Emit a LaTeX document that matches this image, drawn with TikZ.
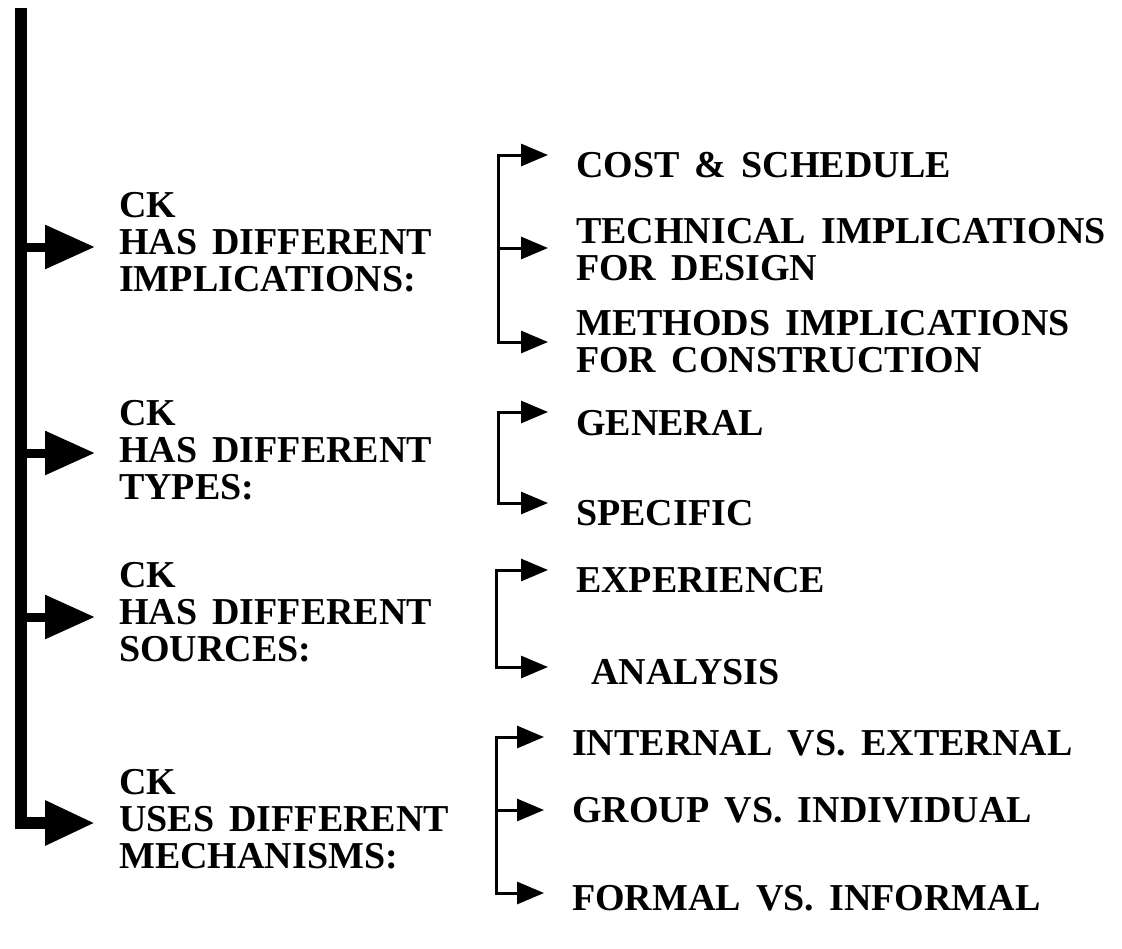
\documentclass[tikz,border=0pt]{standalone}
\usepackage{fontspec}
\setmainfont{Liberation Serif}[WordSpace=1.6]
\usetikzlibrary{arrows.meta,positioning}

\begin{document}
\begin{tikzpicture}[x=1pt,y=-1pt,
  bigtip/.style={-{Triangle[length=50pt,width=42pt]}},
  smalltip/.style={-{Triangle[length=27pt,width=22pt]}},
  lbl/.style={anchor=west,align=left,inner sep=0pt,font=\fontsize{38}{37}\selectfont\bfseries},
  trunk/.style={line width=12pt,line join=miter,bigtip,shorten >=24pt},
  twig/.style={line width=9pt,bigtip,shorten >=24pt},
  brk/.style={line width=3pt,line join=miter,smalltip,shorten >=28pt}]
  \useasboundingbox (0,0) rectangle (1122,948);

  % left column
  \node[lbl] (imp)  at (119,242) {CK\\HAS DIFFERENT\\IMPLICATIONS:};
  \node[lbl] (typ)  at (119,450) {CK\\HAS DIFFERENT\\TYPES:};
  \node[lbl] (src)  at (119,612) {CK\\HAS DIFFERENT\\SOURCES:};
  \node[lbl] (mech) at (119,819) {CK\\USES DIFFERENT\\MECHANISMS:};

  % right column
  \node[lbl] (cost) at (576,165) {COST \& SCHEDULE};
  \node[lbl] (tech) at (576,250) {TECHNICAL IMPLICATIONS\\FOR DESIGN};
  \node[lbl] (meth) at (576,342) {METHODS IMPLICATIONS\\FOR CONSTRUCTION};
  \node[lbl] (gen)  at (576,423) {GENERAL};
  \node[lbl] (spec) at (576,513) {SPECIFIC};
  \node[lbl] (expr) at (576,580) {EXPERIENCE};
  \node[lbl] (ana)  at (591,672) {ANALYSIS};
  \node[lbl] (intl) at (572,743) {INTERNAL VS.\ EXTERNAL};
  \node[lbl] (grp)  at (572,810) {GROUP VS.\ INDIVIDUAL};
  \node[lbl] (frm)  at (572,898) {FORMAL VS.\ INFORMAL};

  % main bar
  \coordinate (top) at (21,8);
  \coordinate (a1) at (21,247);
  \coordinate (a2) at (21,453);
  \coordinate (a3) at (21,617);
  \coordinate (a4) at (21,823);
  \draw[trunk] (top) |- (a4 -| mech.west);
  \draw[twig] (a1) -- (a1 -| imp.west);
  \draw[twig] (a2) -- (a2 -| typ.west);
  \draw[twig] (a3) -- (a3 -| src.west);

  % brackets
  \coordinate (b1t) at (498,155);
  \coordinate (b1m) at (498,248);
  \coordinate (b1b) at (498,342);
  \draw[brk] (b1b) |- (b1t -| cost.west);
  \draw[brk] (b1m) -- (b1m -| tech.west);
  \draw[brk] (b1t) |- (b1b -| meth.west);

  \coordinate (b2t) at (498,412);
  \coordinate (b2b) at (498,503);
  \draw[brk] (b2b) |- (b2t -| gen.west);
  \draw[brk] (b2t) |- (b2b -| spec.west);

  \coordinate (b3t) at (496,570);
  \coordinate (b3b) at (496,667);
  \draw[brk] (b3b) |- (b3t -| expr.west);
  \draw[brk] (b3t) |- (b3b -| expr.west);

  \coordinate (b4t) at (496,737);
  \coordinate (b4m) at (496,810);
  \coordinate (b4b) at (496,893);
  \draw[brk] (b4b) |- (b4t -| intl.west);
  \draw[brk] (b4m) -- (b4m -| grp.west);
  \draw[brk] (b4t) |- (b4b -| frm.west);
\end{tikzpicture}
\end{document}
